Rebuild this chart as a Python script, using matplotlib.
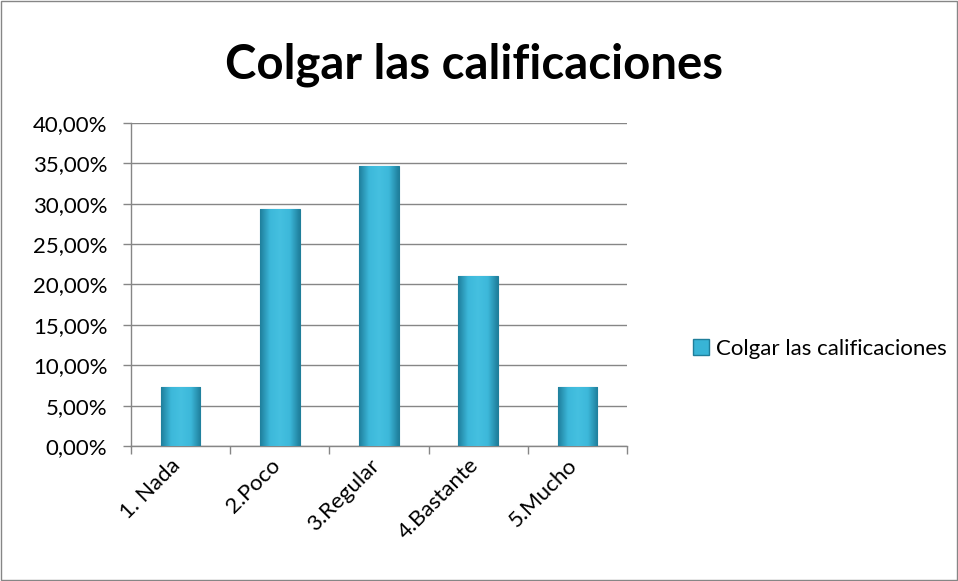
import matplotlib.pyplot as plt
import matplotlib.patches as mpatches
import matplotlib.transforms as mtransforms
import numpy as np
from matplotlib.colors import LinearSegmentedColormap

plt.rcParams['font.family'] = ['Lato', 'DejaVu Sans']

categories = ['1. Nada', '2.Poco', '3.Regular', '4.Bastante', '5.Mucho']
values = [7.3, 29.4, 34.7, 21.0, 7.3]
yticks = [0, 5, 10, 15, 20, 25, 30, 35, 40]
ytick_labels = ['0,00%', '5,00%', '10,00%', '15,00%', '20,00%',
                '25,00%', '30,00%', '35,00%', '40,00%']
series_name = 'Colgar las calificaciones'

fig = plt.figure(figsize=(9.58, 5.81), dpi=100)
ax = fig.add_axes([0.1367, 0.2324, 0.5178, 0.5559])

x = np.arange(len(categories))
bars = ax.bar(x, values, width=0.4, color='#38B4D6', edgecolor='#1F7E9A',
              linewidth=0.8, zorder=3, label=series_name)

# horizontal shading on each bar
cmap = LinearSegmentedColormap.from_list('bar', ['#1F7F9C', '#3CB8DA', '#45C0E0', '#3CB8DA', '#1F7F9C'])
grad = np.linspace(0, 1, 100).reshape(1, -1)
for b in bars:
    x0, y0 = b.get_x(), b.get_y()
    w, h = b.get_width(), b.get_height()
    im = ax.imshow(grad, cmap=cmap, extent=[x0, x0 + w, y0, y0 + h],
                   aspect='auto', zorder=3.5, interpolation='bicubic')
    im.set_clip_path(b)

ax.set_xlim(-0.5, len(categories) - 0.5)
ax.set_ylim(0, 40)
ax.set_yticks(yticks)
ax.set_yticklabels(ytick_labels, fontsize=16)
ax.set_xticks(x)
ax.set_xticklabels(categories, fontsize=16, rotation=45, ha='right',
                   rotation_mode='anchor')
ax.tick_params(axis='x', length=0, pad=8)
shift = mtransforms.ScaledTranslation(-10 / 100, 2 / 100, fig.dpi_scale_trans)
for lbl in ax.get_xticklabels():
    lbl.set_transform(lbl.get_transform() + shift)
ax.set_xticks(np.arange(-0.5, len(categories)), minor=True)
ax.tick_params(axis='x', which='minor', length=6, color='#868686', width=1)
ax.tick_params(axis='y', length=6, color='#868686', width=1, pad=11)

ax.yaxis.grid(True, color='#868686', linewidth=1)
ax.set_axisbelow(True)
for s in ['top', 'right']:
    ax.spines[s].set_visible(False)
for s in ['left', 'bottom']:
    ax.spines[s].set_color('#868686')
    ax.spines[s].set_linewidth(1)

fig.text(0.495, 0.888, series_name, fontsize=34, fontweight='bold',
         ha='center', va='center')

handle = mpatches.Patch(facecolor='#38B4D6', edgecolor='#1F7E9A')
ax.legend([handle], [series_name], loc='center left', frameon=False,
          bbox_to_anchor=(0.703, 0.4), bbox_transform=fig.transFigure,
          fontsize=16, handlelength=0.7, handleheight=0.7, handletextpad=0.3)

fig.patches.append(mpatches.Rectangle((0.001, 0.001), 0.998, 0.997,
                                      transform=fig.transFigure, fill=False,
                                      edgecolor='#868686', linewidth=1))

fig.savefig('out.png', dpi=100)
